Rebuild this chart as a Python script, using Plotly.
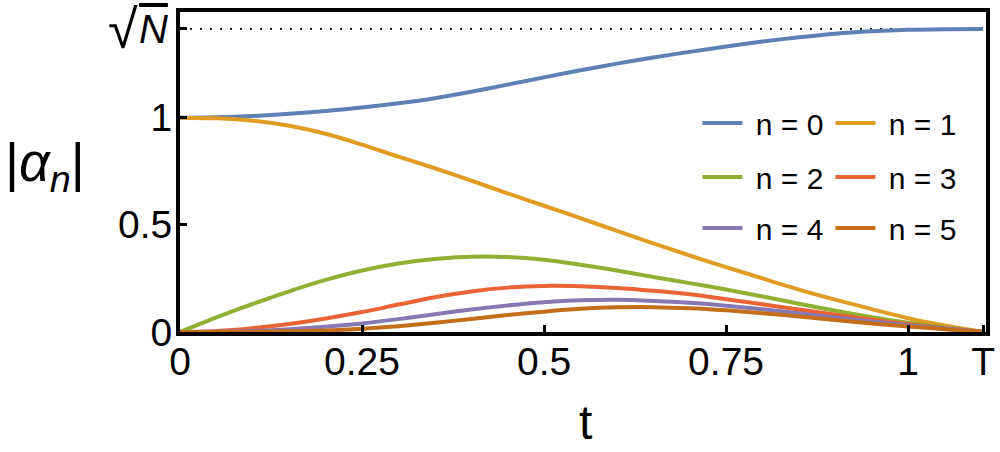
import plotly.graph_objects as go
import math

# ---- data ----
T = 1.103
SQRT_N = math.sqrt(2)

t = [0.00, 0.05, 0.10, 0.15, 0.20, 0.25, 0.30, 0.35, 0.40, 0.45, 0.50, 0.55,
     0.60, 0.65, 0.70, 0.75, 0.80, 0.85, 0.90, 0.95, 1.00, 1.05, T]

alpha0 = [1.000, 1.002, 1.008, 1.018, 1.031, 1.047, 1.067, 1.091, 1.121, 1.154, 1.188, 1.221,
          1.252, 1.281, 1.307, 1.332, 1.355, 1.375, 1.392, 1.403, 1.410, 1.413, 1.414]
alpha1 = [1.000, 0.997, 0.986, 0.962, 0.925, 0.874, 0.818, 0.764, 0.706, 0.647, 0.589, 0.531,
          0.472, 0.414, 0.357, 0.303, 0.250, 0.198, 0.151, 0.107, 0.064, 0.030, 0.000]
alpha2 = [0.000, 0.068, 0.131, 0.190, 0.243, 0.287, 0.320, 0.341, 0.351, 0.350, 0.337, 0.314,
          0.287, 0.257, 0.228, 0.198, 0.166, 0.132, 0.099, 0.069, 0.043, 0.021, 0.000]
alpha3 = [0.000, 0.005, 0.018, 0.037, 0.063, 0.093, 0.128, 0.162, 0.189, 0.207, 0.215, 0.213,
          0.205, 0.192, 0.176, 0.153, 0.129, 0.105, 0.081, 0.058, 0.037, 0.018, 0.000]
alpha4 = [0.000, 0.001, 0.005, 0.013, 0.025, 0.040, 0.060, 0.083, 0.105, 0.124, 0.139, 0.148,
          0.150, 0.145, 0.136, 0.123, 0.106, 0.087, 0.068, 0.049, 0.032, 0.016, 0.000]
alpha5 = [0.000, 0.000, 0.001, 0.003, 0.007, 0.015, 0.027, 0.043, 0.061, 0.079, 0.095, 0.108,
          0.115, 0.116, 0.111, 0.101, 0.088, 0.072, 0.056, 0.040, 0.026, 0.013, 0.000]

series = [alpha0, alpha1, alpha2, alpha3, alpha4, alpha5]
names = ["n = 0", "n = 1", "n = 2", "n = 3", "n = 4", "n = 5"]
colors = ["#5E81B5", "#E19C24", "#8FB032", "#EB6235", "#8778B3", "#C56E1A"]

x_tickvals = [0, 0.25, 0.5, 0.75, 1, T]
x_ticktext = ["0", "0.25", "0.5", "0.75", "1", "T"]
y_tickvals = [0, 0.5, 1, SQRT_N]
y_ticktext = ["0", "0.5", "1", ""]   # sqrt(N) label drawn as annotation text below

FONT = "Liberation Sans, Arial, sans-serif"
NBSP = "\u00a0"

fig = go.Figure()

# dotted reference line at sqrt(N)
fig.add_trace(go.Scatter(x=[0, T], y=[SQRT_N, SQRT_N], mode="lines",
                         line=dict(color="black", width=1.6, dash="2px,8px"),
                         showlegend=False, hoverinfo="skip"))

legend_ids = ["legend", "legend", "legend2", "legend2", "legend3", "legend3"]
for ys, nm, c, lg in zip(series, names, colors, legend_ids):
    fig.add_trace(go.Scatter(x=t, y=ys, mode="lines", name=NBSP + nm,
                             line=dict(color=c, width=4, shape="spline", smoothing=0.8),
                             legend=lg))

leg_common = dict(orientation="h", xanchor="left", yanchor="middle",
                  font=dict(family=FONT, size=30, color="black"),
                  bgcolor="rgba(0,0,0,0)", itemwidth=40,
                  entrywidth=78, entrywidthmode="pixels", tracegroupgap=0)

axis_common = dict(ticks="inside", ticklen=7, tickwidth=3, tickcolor="black",
                   showline=True, linewidth=4, linecolor="black", mirror=True,
                   showgrid=False, zeroline=False, automargin=False,
                   tickfont=dict(family=FONT, size=39, color="black"))

fig.update_layout(
    width=1000, height=452,
    margin=dict(l=180, r=14, t=12, b=120, autoexpand=False),
    paper_bgcolor="white", plot_bgcolor="white",
    font=dict(family=FONT, size=38, color="black"),
    xaxis=dict(range=[0, 1.107], tickvals=x_tickvals, ticktext=x_ticktext,
               ticklabelstandoff=-8, **axis_common),
    yaxis=dict(range=[0, 1.493], tickvals=y_tickvals, ticktext=y_ticktext,
               ticklabelstandoff=-4, **axis_common),
    legend=dict(x=0.642, y=0.653, **leg_common),
    legend2=dict(x=0.642, y=0.484, **leg_common),
    legend3=dict(x=0.642, y=0.325, **leg_common),
    annotations=[
        dict(text="|<i>α</i><sub><i>n</i></sub>|", xref="paper", yref="paper",
             x=-0.1154, y=0.519, xanchor="right", yanchor="middle", showarrow=False,
             font=dict(family=FONT, size=54, color="black")),
        dict(text="t", xref="paper", yref="paper", x=0.5025, y=-0.284,
             xanchor="center", yanchor="middle", showarrow=False,
             font=dict(family=FONT, size=48, color="black")),
        dict(text="√", xref="paper", yref="y", x=-0.0496, y=SQRT_N,
             xanchor="right", yanchor="middle", showarrow=False,
             font=dict(family=FONT, size=54, color="black")),
        dict(text="<span style=\"text-decoration:overline\"><i>N</i></span>",
             xref="paper", yref="y", x=-0.0124, y=SQRT_N,
             xanchor="right", yanchor="middle", showarrow=False,
             font=dict(family=FONT, size=40, color="black")),
    ],
)

fig.write_html("out.html", config={"displayModeBar": False},
               post_script="document.body.style.margin='0px';"
                           "document.body.style.overflow='hidden';")
